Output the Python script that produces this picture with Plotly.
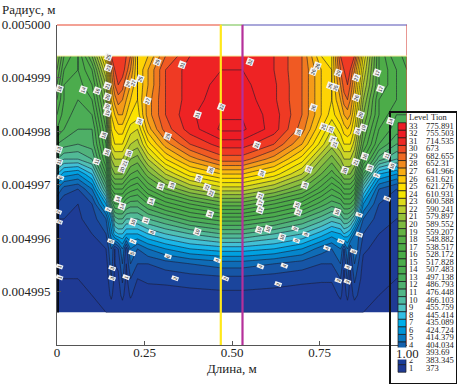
import plotly.graph_objects as go

W, H = 457, 384
FONT = "Liberation Serif"

# ---------- data: temperature level field ----------
x_grid = [0, .02, .06, .10, .14, .155, .165, .175, .187, .198, .21, .23, .26, .31, .38,
          .47, .53, .62, .70, .755, .785, .81, .82, .83, .838, .85, .875, .92, .97, 1.0]
y_grid = [.00499941, .00499915, .00499887, .00499859, .00499831, .00499804, .00499776,
          .00499748, .00499720, .00499692, .00499664, .00499636, .00499608, .00499580,
          .00499552, .00499524, .00499493, .00499461]
z_levels = [
 [20,17,15,19,25,30,30.5,30.5,30.5,30,29,25,26,29,31,32,32,31,29,25,25,30,30.5,30.5,30.5,30,24,17,14,16],
 [19,16,15,17,23,28,30,30.5,30.5,29.5,28,25,27,30,31.5,32,32,31,29,26,25,29,30,30.5,30,28,23,17,15,15],
 [18,15,14.5,16,21,27,29,30,29.5,28,27,25,27,30,31.5,32.3,32.3,31.2,29,26,25,28,29.5,30,29,27,22,17,15,15],
 [17,15,14,15,20,26,27.5,28.5,28,27,26,25,27.5,30,31.5,32.6,32.6,31.2,29,26,25,27,28.5,29,28,26,21,16,15,15],
 [16,14.5,13.5,14,19,25,26,27,27,26,25,24.5,27.5,30,31.8,32.9,32.9,31.5,29,26,24.5,26,27,27.5,27,25,20,16,14,14],
 [15,14,13,13,18,24,25,25.5,25.5,24.5,23.5,23,26.5,29.5,31.5,33.2,33.2,31.5,28.5,25,23,24.5,25.5,26,25.5,24,19,15,13.5,14],
 [13,12.5,12,12.5,17,23,24,24,24,23,22,21.5,24.5,27.5,30,31.5,31.5,30,27,23.5,21.5,23,24,24,24,22.5,18,14,12,12],
 [11,10,10,11,16,21,22,22,22,21,20,19.5,22,25,27.5,29.5,29.5,27.5,24.5,21,19.5,21,22,22,22,21,16,11.5,10,10.5],
 [8,6.5,6,8,14,19,20,20,20,19,18,17.5,19.5,22,24.5,26,26,24.5,22,19,17.5,19,20,20,20,19,13,7,6,8],
 [5,3.5,3,5,11,16,17,17,17,16,15.5,15,17,19,21,22.5,22.5,21,19,16.5,15,16,17,17,17,16,9,4,3,5],
 [3,2.3,2,3,7,12,14,14,14,13,12.5,12.5,14,15.5,17,18.5,18.5,17,15.5,13.5,12.5,13,14,14,14,13,6,3,2.5,3],
 [2,2,1.8,2.5,4,7,10.5,11,11,10,10,10,11,12,13.5,14.5,14.5,13.5,12,10.5,9.5,10,11,11,10.5,9,4,2.5,2,2],
 [1.6,1.6,1.5,2,3,5.5,7.5,8,8,7,7,7,8,9,10,11,11,10,9,7.5,6.5,7,8,7.5,7,5,3,2,1.6,1.6],
 [1.3,1.3,1.3,1.5,2,4,2,3,5,2.5,5,4,5,6,7,7.5,7.5,7,6,4.5,4,5,3,5,3,5,2.2,1.6,1.4,1.3],
 [1.2,1.2,1.2,1.3,1.5,3.5,2,2.2,4,2,4,3,3,3.5,4,4.5,4.5,4,3.5,3,3,4,2.2,4,2.2,4,1.7,1.4,1.2,1.2],
 [1,1,1,1.1,1.3,3,1.7,1.8,3.2,1.7,3,2,2.3,2.3,2.5,2.7,2.7,2.5,2.3,2.2,2.2,3,1.7,3.2,1.7,3.2,1.5,1.2,1,1],
 [1,1,1,1,1.1,2.3,1.3,1.4,2.4,1.3,2.2,1.2,1.3,1.5,1.6,1.7,1.7,1.6,1.4,1.3,1.3,2.3,1.3,2.4,1.3,2.4,1.2,1,1,1],
 [1,1,1,1,1,1,1,1,1,1,1,1,1,1,1,1,1,1,1,1,1,1,1,1,1,1,1,1,1,1],
]

levels = list(range(33, 0, -1))
tion = ["775.891","755.503","714.535","673","682.655","652.31","641.966","631.621","621.276",
        "610.931","600.588","590.241","579.897","589.552","559.207","548.882","538.517","528.172",
        "517.828","507.483","497.138","486.793","476.448","466.103","455.759","445.414","435.089",
        "424.724","414.379","404.034","393.69","383.345","373"]
level_colors = ["#ED1C24","#ED1C24","#EE2A24","#EF4A24","#F06A22","#F28A1E","#F8AC14","#FCC80A","#FFE000",
                "#F6E600","#DEDB1C","#B9CE30","#98C23C","#80BA40","#66B244","#58AE48","#50AC48","#4CAC48",
                "#4CAC4A","#4CAC50","#4CAE5C","#50B070","#52B688","#50BCA4","#50C2C4","#34BEE6","#00AEEA",
                "#0094D8","#0A78C0","#1460AC","#1A4CA0","#1C3E98","#1F3A94"]

# contour label positions (x in m, depth below 0.005 in 1e-6 m)
label_x = [.146,.146,.006,.074,.114,.143,.143,.143,.143,.203,.217,.237,.286,.357,.257,.40,.469,.237,.317,.134,
           .143,.206,.194,.186,.114,.44,.406,.429,.297,.329,.006,.006,.011,.551,.731,.743,.803,.854,.914,.923,
           .78,.794,.854,.731,.866,.954,.874,.86,.76,.783,.691,.571,.789,.794,.88,.854,.823,.72,.586,.709,
           .943,.894,.914,.957,.174,.186,.269,.44,.437,.146,.217,.254,.271,.40,.154,.217,.214,.317,.457,.157,
           .157,.197,.337,.48,.006,.006,.006,.003,.58,.58,.58,.686,.689,.577,.603,.68,.711,.643,.683,.80,
           .863,.863,.811,.771,.846,.58,.649,.831,.803,.831,.631,.943]
label_d = [.605,.81,1.2,1.22,1.24,1.145,1.35,1.54,1.65,1.11,1.09,1.015,.7,.755,1.425,1.685,1.54,1.815,2.095,2.075,
           2.39,2.41,2.6,2.71,2.56,2.73,2.88,3.045,3.03,3.01,2.34,2.58,2.86,.7,.885,.77,.905,.995,.905,1.2,
           1.145,1.18,1.37,1.555,1.685,1.815,1.93,2.0,1.91,1.965,2.02,2.26,2.15,2.245,2.47,2.58,2.73,2.71,2.785,3.01,
           2.47,2.69,2.82,2.65,3.27,3.4,3.305,3.155,3.55,3.47,3.7,3.66,3.88,3.88,4.05,4.05,4.27,4.33,4.4,4.55,
           4.74,4.72,4.74,4.76,4.535,4.74,3.7,3.51,3.21,3.34,3.47,3.38,3.51,3.845,3.83,3.83,3.92,3.98,4.05,3.51,
           3.57,3.94,4.05,4.18,4.25,4.535,4.52,4.535,4.8,4.81,4.85,3.27]

x_ticks = [0, .25, .5, .75, 1]
x_ticktext = ["0", "0.25", "0.50", "0.75", ""]
y_ticks = [.004995, .004996, .004997, .004998, .004999, .005]
y_ticktext = ["0.004995", "0.004996", "0.004997", "0.004998", "0.004999", "0.005000"]

# ---------- helpers ----------
def px_x(p): return p / W
def px_y(p): return 1 - p / H

def nearest(v, arr):
    return min(range(len(arr)), key=lambda i: abs(arr[i] - v))

colorscale = [[(lv - 1) / 32, c] for lv, c in sorted(zip(levels, level_colors))]

fig = go.Figure()
fig.add_trace(go.Contour(
    x=x_grid, y=y_grid[::-1], z=z_levels[::-1], zmin=1, zmax=33,
    autocontour=False, contours=dict(start=1, end=33, size=1, coloring="fill", showlabels=False),
    line=dict(color="#1c1c30", width=0.6, smoothing=0), colorscale=colorscale, showscale=False,
    hoverinfo="skip",
))

def seg(xs, ys, color, width):
    fig.add_trace(go.Scatter(x=xs, y=ys, mode="lines", line=dict(color=color, width=width),
                             hoverinfo="skip", showlegend=False, cliponaxis=False))

seg([0, .468], [.005, .005], "#E8452C", 2)
seg([.468, .53], [.005, .005], "#6DBE45", 2)
seg([.53, 1], [.005, .005], "#5450B5", 2)
seg([1, 1], [.005, .004994], "#D9534A", 1.2)
seg([0, 1], [.00499941, .00499941], "#F5EE9A", 1)
seg([.468, .468], [.005, .004994], "#FFE81A", 2.2)
seg([.53, .53], [.005, .004994], "#B5309A", 2.2)
seg([.003, .003], [.0049981, .00499461], "#000000", 1.6)

# legend swatches, on their own pair of axes in pixel-like units
fig.add_trace(go.Bar(
    y=levels, x=[8] * 33, base=[7] * 33, orientation="h", width=1,
    marker=dict(color=level_colors, line=dict(color="#1a1a1a", width=0.7)),
    xaxis="x2", yaxis="y2", hoverinfo="skip", showlegend=False))
legend_text = dict(family=FONT, size=8.5, color="#222222")
fig.add_trace(go.Scatter(
    x=[18] * 33, y=levels, text=[str(v) for v in levels], mode="text", textposition="middle right",
    textfont=legend_text, xaxis="x2", yaxis="y2", hoverinfo="skip", showlegend=False))
fig.add_trace(go.Scatter(
    x=[35] * 33, y=levels, text=tion, mode="text", textposition="middle right",
    textfont=legend_text, xaxis="x2", yaxis="y2", hoverinfo="skip", showlegend=False))
fig.add_trace(go.Scatter(
    x=[18, 40], y=[34.1, 34.1], text=["Level", "Tion"], mode="text", textposition="middle right",
    textfont=legend_text, xaxis="x2", yaxis="y2", hoverinfo="skip", showlegend=False))

annotations = []
for lx, ld in zip(label_x, label_d):
    ly = .005 - ld * 1e-6
    val = z_levels[nearest(ly, y_grid)][nearest(lx, x_grid)]
    annotations.append(dict(x=lx, y=ly, xref="x", yref="y", text=str(int(val)), showarrow=False,
                            font=dict(family="Liberation Sans", size=5, color="#222222"),
                            bgcolor="#F4F4F4", borderpad=0, textangle=-70))
text_font = dict(family=FONT, size=13, color="#222222")
annotations += [
    dict(x=px_x(29), y=px_y(9), xref="paper", yref="paper", text="Радиус, м", showarrow=False,
         xanchor="center", yanchor="middle", font=text_font),
    dict(x=px_x(232), y=px_y(368), xref="paper", yref="paper", text="Длина, м", showarrow=False,
         xanchor="center", yanchor="middle", font=text_font),
    dict(x=1, y=px_y(353), xref="x", yref="paper", text="1.00", showarrow=False, bgcolor="#FFFFFF",
         borderpad=0, height=11, xanchor="center", yanchor="middle", font=text_font),
]

fig.update_layout(
    width=W, height=H, margin=dict(l=0, r=0, t=0, b=0), autosize=False,
    paper_bgcolor="white", plot_bgcolor="rgba(0,0,0,0)", showlegend=False,
    annotations=annotations, barmode="overlay",
    xaxis=dict(domain=[px_x(57), px_x(407)], range=[0, 1], tickvals=x_ticks, ticktext=x_ticktext,
               ticks="inside", ticklen=4, tickcolor="#555", tickfont=text_font, automargin=False,
               ticklabelstandoff=-5,
               showline=True, linecolor="#555", linewidth=1, showgrid=False, zeroline=False),
    yaxis=dict(domain=[px_y(345), px_y(24.5)], range=[.004994, .005], tickvals=y_ticks, ticktext=y_ticktext,
               ticks="inside", ticklen=4, tickcolor="#555", tickfont=text_font, automargin=False,
               ticklabelstandoff=3,
               showline=True, linecolor="#555", linewidth=1, showgrid=False, zeroline=False),
    xaxis2=dict(domain=[px_x(391), px_x(456)], range=[0, 65], anchor="y2", showticklabels=False, automargin=False,
                ticks="", showgrid=False, zeroline=False, showline=True, mirror=True,
                linecolor="#111", linewidth=1.5),
    yaxis2=dict(domain=[px_y(383), px_y(113)], range=[-0.92, 34.79], anchor="x2", showticklabels=False,
                automargin=False, ticks="", showgrid=False, zeroline=False, showline=True, mirror=True,
                linecolor="#111", linewidth=1.5),
)

fig.write_html("out.html", config={"displayModeBar": False},
               post_script="document.body.style.margin='0';")
